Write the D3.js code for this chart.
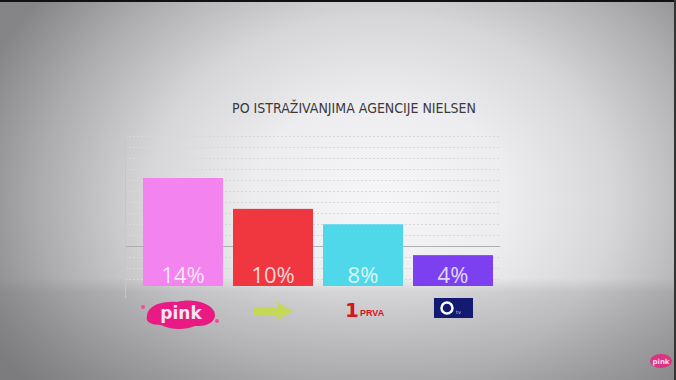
<!DOCTYPE html>
<html>
<head>
<meta charset="utf-8">
<script src="https://cdn.jsdelivr.net/npm/d3@7"></script>
<style>
  body { margin: 0; background: #888; }
  svg { display: block; }
</style>
</head>
<body>
<div id="chart"></div>
<script>
// data
var channels = ["Pink", "Happy", "Prva", "O2"];
var shares = [14, 10, 8, 4];
var shareLabels = ["14%", "10%", "8%", "4%"];
var barColors = ["#f383ee", "#f0363f", "#4fd7ea", "#7c40f0"];
var title = "PO ISTRAŽIVANJIMA AGENCIJE NIELSEN";

var width = 676, height = 380;

var svg = d3.select("#chart")
            .append("svg")
            .attr("width", width)
            .attr("height", height);

// background vignette
var defs = svg.append("defs");
var bg = defs.append("radialGradient")
            .attr("id", "bg")
            .attr("gradientUnits", "userSpaceOnUse")
            .attr("cx", 380).attr("cy", 200)
            .attr("r", 425)
            .attr("gradientTransform", "translate(380,200) scale(1,0.79) translate(-380,-200)");
bg.append("stop").attr("offset", 0).attr("stop-color", "#f6f6f8");
bg.append("stop").attr("offset", 0.3).attr("stop-color", "#ededef");
bg.append("stop").attr("offset", 0.55).attr("stop-color", "#d6d6d8");
bg.append("stop").attr("offset", 0.8).attr("stop-color", "#acacae");
bg.append("stop").attr("offset", 1).attr("stop-color", "#858587");

svg.append("rect")
   .attr("width", width).attr("height", height)
   .attr("fill", "url(#bg)");

// floor shading below the bars
var floor = defs.append("linearGradient")
            .attr("id", "floor")
            .attr("x1", 0).attr("y1", 0).attr("x2", 0).attr("y2", 1);
floor.append("stop").attr("offset", 0).attr("stop-color", "#6e6e70").attr("stop-opacity", 0);
floor.append("stop").attr("offset", 0.14).attr("stop-color", "#6e6e70").attr("stop-opacity", 0.2);
floor.append("stop").attr("offset", 1).attr("stop-color", "#6e6e70").attr("stop-opacity", 0.42);
svg.append("rect")
   .attr("x", 0).attr("y", 278).attr("width", width).attr("height", 102)
   .attr("fill", "url(#floor)");

// dark frame edges of the video
svg.append("rect").attr("x", 0).attr("y", 0).attr("width", width).attr("height", 2).attr("fill", "#111");
svg.append("rect").attr("x", width - 2).attr("y", 0).attr("width", 2).attr("height", height).attr("fill", "#333");

// scales
var x = d3.scaleBand()
          .domain(channels)
          .range([138, 498])
          .paddingInner(0.111)
          .paddingOuter(0.0556);

var y = d3.scaleLinear()
          .domain([0, 14])
          .range([286, 178]);

var gridY = d3.scaleLinear()
          .domain([0, 14])
          .range([290, 136]);

// grid
svg.append("g")
   .selectAll("line")
   .data(d3.range(1, 15))
   .enter().append("line")
   .attr("x1", 125).attr("x2", 500)
   .attr("y1", d => Math.round(gridY(d)) + 0.5).attr("y2", d => Math.round(gridY(d)) + 0.5)
   .attr("stroke", d => d == 4 ? "#b0b0b2" : "#d8d8da")
   .attr("stroke-width", 1)
   .attr("stroke-dasharray", d => d == 4 ? null : "2,2");

svg.append("line")
   .attr("x1", 125.5).attr("x2", 125.5)
   .attr("y1", 135).attr("y2", 298)
   .attr("stroke", "#c6c6c8");

// title
svg.append("text")
   .text(title)
   .attr("x", 354)
   .attr("y", 113)
   .attr("text-anchor", "middle")
   .attr("font-family", "'Liberation Sans Narrow', 'DejaVu Sans Condensed', sans-serif")
   .attr("font-size", 14)
   .attr("fill", "#3a3a3c");

// bars
var bars = svg.selectAll("g.bar")
            .data(channels)
            .enter().append("g");
bars.append("rect")
    .attr("x", d => x(d))
    .attr("y", (d, i) => y(shares[i]))
    .attr("width", x.bandwidth())
    .attr("height", (d, i) => y(0) - y(shares[i]))
    .attr("fill", (d, i) => barColors[i]);
bars.append("text")
    .text((d, i) => shareLabels[i])
    .attr("x", d => x(d) + x.bandwidth() / 2)
    .attr("y", 283)
    .attr("text-anchor", "middle")
    .attr("font-family", "'Open Sans', sans-serif")
    .attr("font-size", 22)
    .attr("fill", "#fff")
    .attr("fill-opacity", 0.8);

// channel logos under the bars
var logoY = 313;
function cx(name) { return x(name) + x.bandwidth() / 2; }

// pink
var pk = svg.append("g").attr("transform", "translate(" + (cx("Pink") - 2) + "," + logoY + ")");
pk.append("path")
  .attr("d", "M-34,3 C-33,-9 -16,-12 -4,-11 C10,-15 28,-11 33,-2 C37,7 28,14 14,13 C4,17 -10,17 -20,12 C-30,12 -36,9 -34,3 Z")
  .attr("fill", "#ea1a84");
pk.append("circle").attr("cx", -38).attr("cy", -6).attr("r", 2).attr("fill", "#ee4c9c");
pk.append("circle").attr("cx", 36).attr("cy", 8).attr("r", 2).attr("fill", "#ee4c9c");
pk.append("text").text("pink")
  .attr("x", 0).attr("y", 6)
  .attr("text-anchor", "middle")
  .attr("font-family", "'DejaVu Sans', sans-serif")
  .attr("font-weight", "bold")
  .attr("font-size", 17)
  .attr("fill", "#fbe6f2");

// happy arrow
var hp = svg.append("g").attr("transform", "translate(" + cx("Happy") + "," + (logoY - 2) + ")");
hp.append("path")
  .attr("d", "M-20,-4 L6,-4 L2,-10 L20,0 L2,10 L6,4 L-20,4 Z")
  .attr("fill", "#c6dc3c")
  .attr("opacity", 0.8);

// prva
var pr = svg.append("g").attr("transform", "translate(" + cx("Prva") + "," + logoY + ")");
pr.append("text").text("1")
  .attr("x", -11).attr("y", 4)
  .attr("text-anchor", "middle")
  .attr("font-family", "'DejaVu Sans', sans-serif")
  .attr("font-weight", "bold")
  .attr("font-size", 20)
  .attr("fill", "#d8141f");
pr.append("text").text("PRVA")
  .attr("x", -3).attr("y", 3)
  .attr("font-family", "'Liberation Sans Narrow', sans-serif")
  .attr("font-weight", "bold")
  .attr("font-size", 9)
  .attr("fill", "#d8141f");

// o2
var o2 = svg.append("g").attr("transform", "translate(" + cx("O2") + "," + (logoY - 5) + ")");
o2.append("rect")
  .attr("x", -19).attr("y", -10).attr("width", 39).attr("height", 20)
  .attr("fill", "#121a72");
o2.append("circle").attr("cx", -6).attr("cy", 0).attr("r", 5.5)
  .attr("fill", "none").attr("stroke", "#fff").attr("stroke-width", 2.5);
o2.append("text").text("tv")
  .attr("x", 3).attr("y", 6)
  .attr("font-family", "'DejaVu Sans', sans-serif")
  .attr("font-size", 5)
  .attr("fill", "#ccd");

// corner watermark
var wm = svg.append("g").attr("transform", "translate(661,361)");
wm.append("ellipse").attr("rx", 11).attr("ry", 7).attr("fill", "#e8237f").attr("opacity", 0.85);
wm.append("text").text("pink")
  .attr("y", 3)
  .attr("text-anchor", "middle")
  .attr("font-family", "'DejaVu Sans', sans-serif")
  .attr("font-weight", "bold")
  .attr("font-size", 7)
  .attr("fill", "#fde");
</script>
</body>
</html>
